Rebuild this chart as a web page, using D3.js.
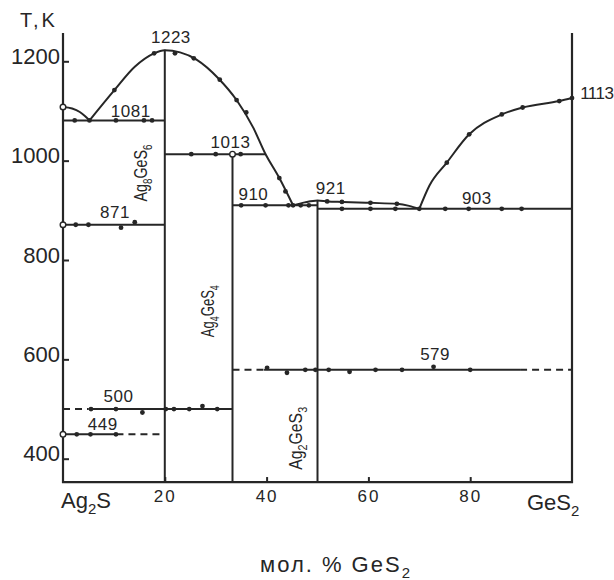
<!DOCTYPE html>
<html>
<head>
<meta charset="utf-8">
<script src="https://cdn.jsdelivr.net/npm/d3@7"></script>
<style>
  body { margin: 0; background: #fff; }
  svg text { font-family: "Liberation Sans", Arial, sans-serif; fill: #262626; }
</style>
</head>
<body>
<div id="chart"></div>
<script>
// Ag2S - GeS2 phase diagram. x = mol % GeS2, T in K

var yTicks = [400, 600, 800, 1000, 1200];
var xTicks = [20, 40, 60, 80];
var tBottom = 353, tTop = 1257;   // extent of the frame

// liquidus branches [x, T]
var liqAg2S  = [[0, 1108], [1.8, 1105], [3.3, 1098], [4.3, 1090], [5.2, 1081]];
var liqAg8   = [[5.2, 1081], [10.1, 1142], [14.1, 1189], [17.9, 1216], [20, 1222], [23, 1218], [26.3, 1203],
                [30.5, 1166], [34.1, 1122], [37.4, 1066], [39.7, 1015], [42.4, 967], [45.2, 910]];
var liqAg2   = [[45.2, 910], [47.5, 916], [50, 920], [52, 918], [55, 917], [60.4, 915], [65.6, 913], [68, 909], [70, 903]];
var liqGeS2  = [[70, 903], [72, 950], [75.4, 996], [79.8, 1053], [86.2, 1093], [90.3, 1107], [97.5, 1120], [100, 1126]];

// isotherms [T, x0, x1]
var solidIso  = [[1081, 0, 20], [1013, 20, 39.8], [910, 33.3, 50], [903, 50, 100], [871, 0, 20],
                 [579, 39.5, 89.8], [500, 5, 33.3], [449, 0, 10.5]];
var dashedIso = [[579, 33.3, 39.5], [579, 89.8, 100], [500, 0, 5], [449, 10.5, 20]];

// compounds: composition, top of the line, name, label centre (T)
var compounds = [
  {x: 20,   top: 1223, name: ['Ag', '8', 'GeS', '6'], at: 975},
  {x: 33.3, top: 1013, name: ['Ag', '4', 'GeS', '4'], at: 697},
  {x: 50,   top: 921,  name: ['Ag', '2', 'GeS', '3'], at: 441}
];

// experimental points
var dotsLiq = [[5.2, 1081], [10.1, 1142], [17.9, 1216], [22, 1216], [25.7, 1206], [30.8, 1163], [34.1, 1122], [36, 1097],
               [42.5, 965], [43.7, 938], [45.2, 910], [51.9, 918], [54.8, 917], [60.4, 915], [65.6, 913], [70, 903],
               [75.4, 996], [79.8, 1053], [86.2, 1093], [90.3, 1107], [97.5, 1120], [100, 1126]];
var dotsIso = [[2.3, 1081], [10.4, 1081], [15.9, 1081], [17.5, 1081],
               [25.2, 1013], [30, 1013], [34.9, 1013],
               [35, 910], [39.8, 910], [44.3, 910], [46.7, 910], [48.3, 910],
               [54.8, 903], [60.4, 903], [65.3, 903], [75.1, 903], [79.7, 903], [86.2, 903], [90.1, 903],
               [2.5, 871], [5, 871], [11.4, 865], [14.1, 876],
               [40.1, 583], [44, 573], [47.6, 579], [49.6, 579], [52.2, 579], [56.3, 575], [61.4, 579], [66.6, 579], [72.8, 585], [80, 579],
               [5.5, 500], [10.4, 500], [15.6, 493], [20.2, 500], [21.8, 500], [24.8, 500], [27.4, 506], [30.3, 500],
               [2.7, 449], [5.4, 449], [10.4, 449]];
var openDots = [[0, 1108], [0, 871], [0, 449], [33.3, 1013]];

// temperature labels [text, x, T]
var notes = [['1223', 21.2, 1237], ['1081', 13.3, 1088], ['1013', 32.9, 1025], ['910', 37.4, 921],
             ['921', 52.6, 933], ['903', 81.3, 913], ['871', 10.2, 885], ['500', 10.9, 514],
             ['449', 7.8, 458], ['579', 73.1, 599]];
var endNote = ['1113', 101.6, 1124];

var width = 614, height = 580;
var ink = '#262626';

var svg = d3.select('#chart').append('svg')
    .attr('width', width)
    .attr('height', height);

svg.append('rect').attr('width', width).attr('height', height).attr('fill', '#fff');

var x = d3.scaleLinear().domain([0, 100]).range([63, 572]);
var y = d3.scaleLinear().domain([400, 1200]).range([458.7, 61.3]);

var line = d3.line()
    .x(function(d) { return x(d[0]); })
    .y(function(d) { return y(d[1]); })
    .curve(d3.curveMonotoneX);

// frame: both composition ends and the bottom line
svg.append('path')
    .attr('d', 'M' + x(0) + ',' + y(tTop) + 'V' + y(tBottom) + 'H' + x(100) + 'V' + y(tTop))
    .attr('fill', 'none').attr('stroke', ink).attr('stroke-width', 2.2);

// y axis (ticks pointing inward, labels sitting on the tick)
var yAxis = svg.append('g')
    .attr('transform', 'translate(' + x(0) + ',0)')
    .call(d3.axisLeft(y).tickValues(yTicks).tickFormat(d3.format('d')).tickSize(-6).tickPadding(3));
yAxis.select('.domain').remove();
yAxis.selectAll('line').attr('stroke', ink).attr('stroke-width', 2);
yAxis.selectAll('text')
    .attr('dy', '0.1em')
    .attr('font-size', 22)
    .attr('font-family', null)
    .attr('fill', ink);

// x axis
var xAxis = svg.append('g')
    .attr('transform', 'translate(0,' + y(tBottom) + ')')
    .call(d3.axisBottom(x).tickValues(xTicks).tickSize(-5).tickPadding(8));
xAxis.select('.domain').remove();
xAxis.selectAll('line').attr('stroke', ink).attr('stroke-width', 2);
xAxis.selectAll('text')
    .attr('font-size', 17)
    .attr('letter-spacing', 2)
    .attr('font-family', null)
    .attr('fill', ink);

// liquidus
[liqAg2S, liqAg8, liqAg2, liqGeS2].forEach(function(branch) {
    svg.append('path')
        .datum(branch)
        .attr('d', line)
        .attr('fill', 'none')
        .attr('stroke', ink)
        .attr('stroke-width', 2);
});

// compound lines
svg.selectAll('.compound')
    .data(compounds)
    .enter().append('line')
    .attr('class', 'compound')
    .attr('x1', function(d) { return x(d.x); })
    .attr('x2', function(d) { return x(d.x); })
    .attr('y1', function(d) { return y(d.top); })
    .attr('y2', y(tBottom))
    .attr('stroke', ink)
    .attr('stroke-width', 2);

// isotherms
function drawIso(data, dash) {
    svg.append('g').selectAll('line')
        .data(data)
        .enter().append('line')
        .attr('x1', function(d) { return x(d[1]); })
        .attr('x2', function(d) { return x(d[2]); })
        .attr('y1', function(d) { return y(d[0]); })
        .attr('y2', function(d) { return y(d[0]); })
        .attr('stroke', ink)
        .attr('stroke-width', 2)
        .attr('stroke-dasharray', dash);
}
drawIso(solidIso, null);
drawIso(dashedIso, '7,5');

// points
svg.append('g').selectAll('circle')
    .data(dotsLiq.concat(dotsIso))
    .enter().append('circle')
    .attr('cx', function(d) { return x(d[0]); })
    .attr('cy', function(d) { return y(d[1]); })
    .attr('r', 2.4)
    .attr('fill', ink);

svg.append('g').selectAll('circle')
    .data(openDots)
    .enter().append('circle')
    .attr('cx', function(d) { return x(d[0]); })
    .attr('cy', function(d) { return y(d[1]); })
    .attr('r', 2.8)
    .attr('fill', '#fff')
    .attr('stroke', ink)
    .attr('stroke-width', 1.4);

// temperature labels
svg.append('g').selectAll('text')
    .data(notes)
    .enter().append('text')
    .attr('x', function(d) { return x(d[1]); })
    .attr('y', function(d) { return y(d[2]); })
    .attr('text-anchor', 'middle')
    .attr('font-size', 17)
    .attr('letter-spacing', 0.5)
    .text(function(d) { return d[0]; });

svg.append('text')
    .attr('x', x(endNote[1]))
    .attr('y', y(endNote[2]))
    .attr('font-size', 17)
    .attr('letter-spacing', -0.5)
    .text(endNote[0]);

// compound names, written upward along each line (hand lettering is narrow)
compounds.forEach(function(c, i) {
    var off = [17.5, 18.5, 15.5][i];
    var len = [57, 52, 63][i];
    var t = svg.append('text')
        .attr('transform', 'translate(' + (x(c.x) - off) + ',' + y(c.at) + ') rotate(-90)')
        .attr('text-anchor', 'middle')
        .attr('font-size', 19)
        .attr('textLength', len)
        .attr('lengthAdjust', 'spacingAndGlyphs');
    t.append('tspan').text(c.name[0]);
    t.append('tspan').attr('font-size', 13).attr('dy', 5).text(c.name[1]);
    t.append('tspan').attr('dy', -5).text(c.name[2]);
    t.append('tspan').attr('font-size', 13).attr('dy', 5).text(c.name[3]);
});

// axis titles and end members
function formula(parent, main, sub, size) {
    parent.append('tspan').text(main);
    parent.append('tspan').attr('font-size', size * 0.68).attr('dy', size * 0.25).text(sub);
}

svg.append('text')
    .attr('x', 20).attr('y', 27)
    .attr('font-size', 20)
    .attr('letter-spacing', 3)
    .text('T,K');

var left = svg.append('text').attr('x', 61).attr('y', 508).attr('font-size', 22);
formula(left, 'Ag', '2', 22);
left.append('tspan').attr('dy', -22 * 0.25).text('S');

var right = svg.append('text').attr('x', 527).attr('y', 510).attr('font-size', 22);
formula(right, 'GeS', '2', 22);

var title = svg.append('text').attr('x', 260).attr('y', 572).attr('font-size', 22).attr('letter-spacing', 2);
formula(title, 'мол. % GeS', '2', 22);
</script>
</body>
</html>
